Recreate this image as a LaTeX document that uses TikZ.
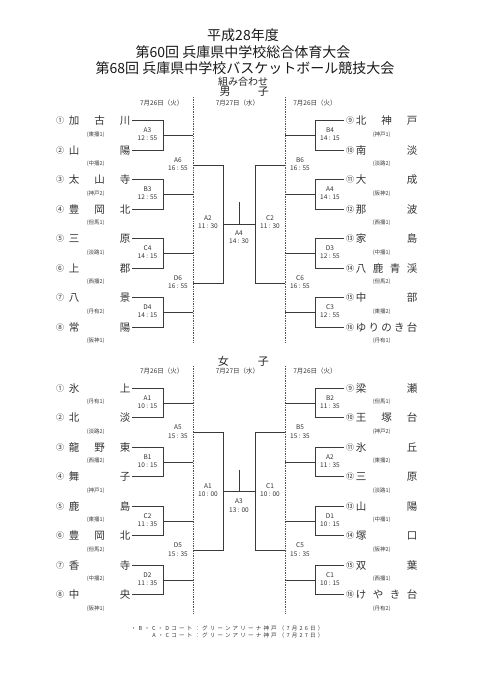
\documentclass[tikz,border=0pt]{standalone}
\usepackage{fontspec}
\setmainfont{Noto Sans CJK JP}
\usetikzlibrary{positioning}
\definecolor{ink}{HTML}{3A3A3A}
\definecolor{dotgray}{HTML}{555555}

\begin{document}
\begin{tikzpicture}[
  x=1pt,y=-1pt,
  title/.style={font=\fontsize{14}{16}\selectfont,inner sep=0pt,text=black!90},
  head/.style={font=\fontsize{11}{13}\selectfont,inner sep=0pt,text=black!85},
  day/.style={font=\fontsize{6.5}{7}\selectfont,inner sep=0pt,text=black!80},
  num/.style={font=\fontsize{8}{9}\selectfont,inner sep=0pt,text=black!80},
  team/.style={font=\fontsize{10.5}{12}\selectfont,inner sep=0pt,anchor=west,text=black!80},
  area/.style={font=\fontsize{5.5}{6}\selectfont,inner sep=0pt,text=black!75},
  game/.style={font=\fontsize{6.5}{8.3}\selectfont,align=center,inner sep=0pt,text=black!80},
  note/.style={font=\fontsize{5.5}{6}\selectfont\addfontfeature{LetterSpace=40},inner sep=0pt,anchor=east,text=black!80},
  wire/.style={ink,line width=0.85pt},
  daysep/.style={dotgray,densely dotted,line width=0.7pt}
  ]
  \fill[white] (0,0) rectangle (481,680);

  % titles
  \node[title] (t1) at (243,35) {平成28年度};
  \node[title] (t2) at (243,51.7) {第60回 兵庫県中学校総合体育大会};
  \node[title] (t3) at (245,68.3) {第68回 兵庫県中学校バスケットボール競技大会};
  \node[font=\fontsize{10}{12}\selectfont,inner sep=0pt,text=black!85] (kumi) at (243,81.7) {組み合わせ};

  % ===== boys =====
  \node[head] (boy1) at (225,91.7) {男};
  \node[head] (boy2) at (263.3,91.7) {子};
  \node[day] (bd1) at (161.7,103.5) {7月26日（火）};
  \node[day] (bd2) at (237.5,103.5) {7月27日（水）};
  \node[day] (bd3) at (315,103.5) {7月26日（火）};
  \coordinate (bl1) at (193,97);  \coordinate (bl2) at (193,342);
  \coordinate (br1) at (285,97);  \coordinate (br2) at (285,342);
  \draw[daysep] (bl1) -- (bl2);
  \draw[daysep] (br1) -- (br2);

  \foreach \i/\c/\nm/\ar in {1/①/加\hfill 古\hfill 川/東播1,2/②/山\hfill 陽/中播2,
    3/③/太\hfill 山\hfill 寺/神戸2,4/④/豊\hfill 岡\hfill 北/但馬1,5/⑤/三\hfill 原/淡路1,
    6/⑥/上\hfill 郡/西播2,7/⑦/八\hfill 景/丹有2,8/⑧/常\hfill 陽/阪神1}{
    \pgfmathsetmacro\yy{120.7+29.5*(\i-1)}
    \node[num] (bc\i) at (60,\yy) {\c};
    \node[team] (bn\i) at (68.75,\yy) {\makebox[61.5pt]{\nm}};
    \node[area] (ba\i) at (95.7,\yy+13.6) {(\ar)};
    \coordinate (bt\i) at (132,\yy);
  }
  \foreach \i/\c/\nm/\ar in {9/⑨/北\hfill 神\hfill 戸/神戸1,10/⑩/南\hfill 淡/淡路2,
    11/⑪/大\hfill 成/阪神2,12/⑫/那\hfill 波/西播1,13/⑬/家\hfill 島/中播1,
    14/⑭/八\hfill 鹿\hfill 青\hfill 渓/但馬2,15/⑮/中\hfill 部/東播2,
    16/⑯/ゆ\hfill り\hfill の\hfill き\hfill 台/丹有1}{
    \pgfmathsetmacro\yy{120.7+29.5*(\i-9)}
    \node[num] (bc\i) at (350,\yy) {\c};
    \node[team] (bn\i) at (355.75,\yy) {\makebox[61.5pt]{\nm}};
    \node[area] (ba\i) at (381.7,\yy+13.6) {(\ar)};
    \coordinate (bt\i) at (344,\yy);
  }

  % first round
  \foreach \m/\g/\tm in {1/A3/12 : 55,2/B3/12 : 55,3/C4/14 : 15,4/D4/14 : 15}{
    \coordinate (bj\m) at (163,{135.45+59*(\m-1)});
    \coordinate (bk\m) at (193,{135.45+59*(\m-1)});
    \node[game,xshift=-15.5pt,yshift=1pt] (bg\m) at (bj\m) {\g\\\tm};
  }
  \foreach \m/\g/\tm in {5/B4/14 : 15,6/A4/14 : 15,7/D3/12 : 55,8/C3/12 : 55}{
    \coordinate (bj\m) at (315,{135.45+59*(\m-5)});
    \coordinate (bk\m) at (285,{135.45+59*(\m-5)});
    \node[game,xshift=15pt,yshift=1pt] (bg\m) at (bj\m) {\g\\\tm};
  }
  \foreach \i in {1,...,16}{
    \pgfmathtruncatemacro\m{(\i+1)/2}
    \draw[wire] (bt\i) -| (bj\m);
  }
  \foreach \m in {1,...,8}
    \draw[wire] (bj\m) -- (bk\m);

  % later rounds
  \coordinate (bq1) at (193,164.95);
  \coordinate (bq2) at (193,282.95);
  \coordinate (bq3) at (285,164.95);
  \coordinate (bq4) at (285,282.95);
  \coordinate (bs1) at (223,223.95);
  \coordinate (bs2) at (255,223.95);
  \coordinate (bf) at (239,223.95);
  \coordinate (bftop) at (239,202);
  \draw[wire] (bq1) -| (bs1);
  \draw[wire] (bq2) -| (bs1);
  \draw[wire] (bq3) -| (bs2);
  \draw[wire] (bq4) -| (bs2);
  \draw[wire] (bs1) -- (bs2);
  \draw[wire] (bf) -- (bftop);
  \node[game,xshift=-15pt,yshift=1pt] (bg9) at (bq1) {A6\\16 : 55};
  \node[game,xshift=-15pt,yshift=1pt] (bg10) at (bq2) {D6\\16 : 55};
  \node[game,xshift=15pt,yshift=1pt] (bg11) at (bq3) {B6\\16 : 55};
  \node[game,xshift=15pt,yshift=1pt] (bg12) at (bq4) {C6\\16 : 55};
  \node[game,xshift=-15pt,yshift=1.5pt] (bg13) at (bs1) {A2\\11 : 30};
  \node[game,xshift=15pt,yshift=1.5pt] (bg14) at (bs2) {C2\\11 : 30};
  \node[game,yshift=-13.5pt] (bg15) at (bf) {A4\\14 : 30};

  % ===== girls =====
  \node[head] (girl1) at (223.3,361.7) {女};
  \node[head] (girl2) at (263.3,361.7) {子};
  \node[day] (gd1) at (161.7,371) {7月26日（火）};
  \node[day] (gd2) at (237.5,371) {7月27日（水）};
  \node[day] (gd3) at (315,371) {7月26日（火）};
  \coordinate (gl1) at (193,366);  \coordinate (gl2) at (193,613);
  \coordinate (gr1) at (285,366);  \coordinate (gr2) at (285,613);
  \draw[daysep] (gl1) -- (gl2);
  \draw[daysep] (gr1) -- (gr2);

  \foreach \i/\c/\nm/\ar in {1/①/氷\hfill 上/丹有1,2/②/北\hfill 淡/淡路2,
    3/③/龍\hfill 野\hfill 東/西播2,4/④/舞\hfill 子/神戸1,5/⑤/鹿\hfill 島/東播1,
    6/⑥/豊\hfill 岡\hfill 北/但馬2,7/⑦/香\hfill 寺/中播2,8/⑧/中\hfill 央/阪神1}{
    \pgfmathsetmacro\yy{388.3+29.5*(\i-1)}
    \node[num] (gc\i) at (60,\yy) {\c};
    \node[team] (gn\i) at (68.75,\yy) {\makebox[61.5pt]{\nm}};
    \node[area] (ga\i) at (95.7,\yy+13.6) {(\ar)};
    \coordinate (gt\i) at (132,\yy);
  }
  \foreach \i/\c/\nm/\ar in {9/⑨/梁\hfill 瀬/但馬1,10/⑩/王\hfill 塚\hfill 台/神戸2,
    11/⑪/氷\hfill 丘/東播2,12/⑫/三\hfill 原/淡路1,13/⑬/山\hfill 陽/中播1,
    14/⑭/塚\hfill 口/阪神2,15/⑮/双\hfill 葉/西播1,16/⑯/け\hfill や\hfill き\hfill 台/丹有2}{
    \pgfmathsetmacro\yy{388.3+29.5*(\i-9)}
    \node[num] (gc\i) at (350,\yy) {\c};
    \node[team] (gn\i) at (355.75,\yy) {\makebox[61.5pt]{\nm}};
    \node[area] (ga\i) at (381.7,\yy+13.6) {(\ar)};
    \coordinate (gt\i) at (344,\yy);
  }

  \foreach \m/\g/\tm in {1/A1/10 : 15,2/B1/10 : 15,3/C2/11 : 35,4/D2/11 : 35}{
    \coordinate (gj\m) at (163,{403.05+59*(\m-1)});
    \coordinate (gk\m) at (193,{403.05+59*(\m-1)});
    \node[game,xshift=-15.5pt,yshift=1pt] (gg\m) at (gj\m) {\g\\\tm};
  }
  \foreach \m/\g/\tm in {5/B2/11 : 35,6/A2/11 : 35,7/D1/10 : 15,8/C1/10 : 15}{
    \coordinate (gj\m) at (315,{403.05+59*(\m-5)});
    \coordinate (gk\m) at (285,{403.05+59*(\m-5)});
    \node[game,xshift=15pt,yshift=1pt] (gg\m) at (gj\m) {\g\\\tm};
  }
  \foreach \i in {1,...,16}{
    \pgfmathtruncatemacro\m{(\i+1)/2}
    \draw[wire] (gt\i) -| (gj\m);
  }
  \foreach \m in {1,...,8}
    \draw[wire] (gj\m) -- (gk\m);

  \coordinate (gq1) at (193,432.55);
  \coordinate (gq2) at (193,550.55);
  \coordinate (gq3) at (285,432.55);
  \coordinate (gq4) at (285,550.55);
  \coordinate (gs1) at (223,491.55);
  \coordinate (gs2) at (255,491.55);
  \coordinate (gf) at (239,491.55);
  \coordinate (gftop) at (239,469.5);
  \draw[wire] (gq1) -| (gs1);
  \draw[wire] (gq2) -| (gs1);
  \draw[wire] (gq3) -| (gs2);
  \draw[wire] (gq4) -| (gs2);
  \draw[wire] (gs1) -- (gs2);
  \draw[wire] (gf) -- (gftop);
  \node[game,xshift=-15pt,yshift=1pt] (gg9) at (gq1) {A5\\15 : 35};
  \node[game,xshift=-15pt,yshift=1pt] (gg10) at (gq2) {D5\\15 : 35};
  \node[game,xshift=15pt,yshift=1pt] (gg11) at (gq3) {B5\\15 : 35};
  \node[game,xshift=15pt,yshift=1pt] (gg12) at (gq4) {C5\\15 : 35};
  \node[game,xshift=-15pt,yshift=1.5pt] (gg13) at (gs1) {A1\\10 : 00};
  \node[game,xshift=15pt,yshift=1.5pt] (gg14) at (gs2) {C1\\10 : 00};
  \node[game,yshift=-14pt] (gg15) at (gf) {A3\\13 : 00};

  % courts
  \node[note] (court1) at (323.5,628) {・B・C・Dコート：グリーンアリーナ神戸（7月26日）};
  \node[note] (court2) at (323.5,635.5) {A・Cコート：グリーンアリーナ神戸（7月27日）};
\end{tikzpicture}
\end{document}
